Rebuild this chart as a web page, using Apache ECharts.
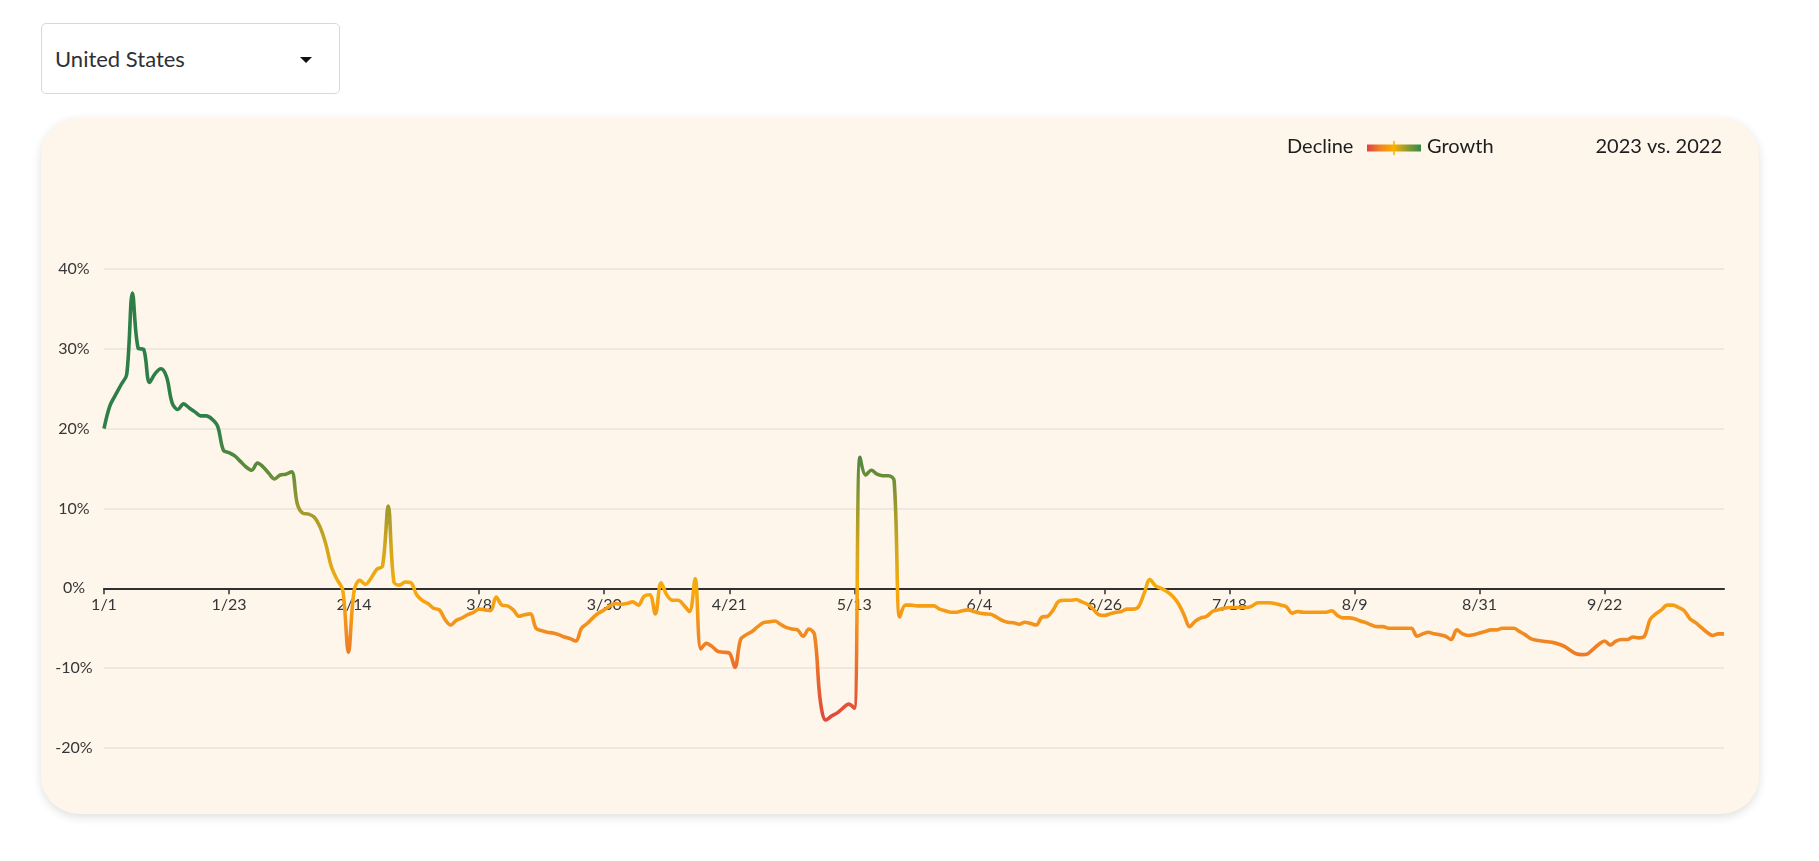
<!DOCTYPE html>
<html>
<head>
<meta charset="utf-8">
<script src="https://cdn.jsdelivr.net/npm/echarts@6/dist/echarts.min.js"></script>
<style>
  html, body { margin:0; padding:0; background:#ffffff; width:1819px; height:861px; overflow:hidden; font-family: Lato, "Open Sans", sans-serif; }
  #dropdown { position:absolute; left:41px; top:23px; width:297px; height:69px; border:1px solid #d8d8d8; border-radius:5px; background:#fff; }
  #dropdown span { position:absolute; left:13px; top:0; line-height:70px; font-size:22px; color:#2e3036; }
  #dropdown i { position:absolute; left:258px; top:33px; width:0; height:0; border-left:6px solid transparent; border-right:6px solid transparent; border-top:6px solid #111; }
  #card { position:absolute; left:41px; top:118px; width:1718px; height:696px; border-radius:38px; background:#fef6ea; box-shadow:0 3px 10px rgba(0,0,0,0.13); }
  #chart { position:absolute; left:0; top:0; width:1819px; height:861px; }
</style>
</head>
<body>
<div id="dropdown"><span>United States</span><i></i></div>
<div id="card"></div>
<div id="chart"></div>
<script>
// ---- data (2023 vs. 2022 % change, daily from 1/1) ----
const monthLengths = [31, 28, 31, 30, 31, 30, 31, 31, 30, 13];
const janValues = [20.0, 22.8, 24.2, 25.5, 26.8, 37.0, 30.1, 29.9, 25.8, 26.9, 27.5, 26.5, 23.2, 22.4, 23.1, 22.6, 22.1, 21.6, 21.6, 21.2, 20.3, 17.3, 17.0, 16.6, 15.9, 15.2, 14.8, 15.7, 15.2, 14.4, 13.7];
const febValues = [14.2, 14.3, 14.6, 10.6, 9.4, 9.3, 8.9, 7.7, 5.6, 2.7, 1.1, -0.2, -8.0, -0.3, 1.0, 0.5, 1.3, 2.4, 2.8, 10.3, 0.8, 0.4, 0.8, 0.7, -0.8, -1.5, -1.9, -2.5];
const marValues = [-2.7, -3.9, -4.6, -4.0, -3.7, -3.3, -3.0, -2.6, -2.7, -2.8, -1.1, -2.1, -2.2, -2.7, -3.5, -3.3, -3.2, -5.0, -5.3, -5.5, -5.6, -5.8, -6.1, -6.3, -6.6, -5.0, -4.4, -3.7, -3.1, -2.7, -2.2];
const aprValues = [-1.9, -2.0, -1.9, -1.7, -2.1, -1.0, -0.8, -3.2, 0.7, -0.8, -1.5, -1.5, -2.1, -2.9, 1.2, -7.6, -6.9, -7.3, -7.9, -8.0, -8.1, -9.9, -6.4, -5.8, -5.4, -4.8, -4.3, -4.2, -4.1, -4.5];
const mayValues = [-4.9, -5.1, -5.2, -6.0, -5.1, -5.8, -14.0, -16.5, -16.0, -15.6, -15.0, -14.5, -15.0, 16.4, 14.2, 14.8, 14.3, 14.1, 14.1, 13.5, -3.6, -2.1, -2.1, -2.2, -2.2, -2.2, -2.2, -2.6, -2.8, -3.0, -3.0];
const junValues = [-2.8, -2.7, -2.9, -3.1, -3.2, -3.25, -3.6, -4.0, -4.25, -4.3, -4.5, -4.25, -4.4, -4.6, -3.6, -3.5, -2.7, -1.6, -1.5, -1.5, -1.4, -1.7, -2.0, -2.6, -3.3, -3.4, -3.2, -3.0, -2.9, -2.6];
const julValues = [-2.6, -2.3, -0.6, 1.1, 0.3, 0.0, -0.4, -1.0, -1.9, -3.3, -4.8, -4.1, -3.7, -3.5, -2.9, -2.7, -2.5, -2.4, -2.4, -2.4, -2.4, -2.2, -1.8, -1.8, -1.8, -1.9, -2.1, -2.3, -3.1, -2.9, -3.0];
const augValues = [-3.0, -3.0, -3.0, -3.0, -2.8, -3.4, -3.7, -3.7, -3.8, -4.1, -4.3, -4.6, -4.8, -4.8, -5.0, -5.0, -5.0, -5.0, -5.0, -6.0, -5.7, -5.5, -5.7, -5.8, -6.0, -6.4, -5.2, -5.7, -5.9, -5.8, -5.6];
const sepValues = [-5.4, -5.2, -5.2, -5.0, -5.0, -5.0, -5.4, -5.8, -6.3, -6.5, -6.6, -6.7, -6.8, -7.0, -7.3, -7.8, -8.2, -8.3, -8.2, -7.6, -7.0, -6.6, -7.1, -6.6, -6.4, -6.4, -6.1, -6.2, -6.0, -3.9];
const octValues = [-3.2, -2.7, -2.1, -2.1, -2.4, -2.8, -3.8, -4.3, -4.9, -5.5, -5.9, -5.7, -5.7];
const yTicks = [-20, -10, 0, 10, 20, 30, 40];
const legendLabels = ['Decline', 'Growth'];
const periodLabel = '2023 vs. 2022';

// ---- build ----
const values = [].concat(janValues, febValues, marValues, aprValues, mayValues, junValues, julValues, augValues, sepValues, octValues);
const categories = [];
monthLengths.forEach((n, m) => { for (let d = 1; d <= n; d++) categories.push((m + 1) + '/' + d); });

const FONT = 'Lato, "Open Sans", sans-serif';
const GRID_TOP = 269, GRID_BOTTOM = 113, H = 861;
const yMin = yTicks[0], yMax = yTicks[yTicks.length - 1];
const plotH = H - GRID_TOP - GRID_BOTTOM;
const zeroOffset = -plotH * (0 - yMin) / (yMax - yMin);

const chart = echarts.init(document.getElementById('chart'), null, { renderer: 'canvas' });
chart.setOption({
  backgroundColor: 'transparent',
  animation: false,
  grid: { left: 104, right: 95, top: GRID_TOP, bottom: GRID_BOTTOM, containLabel: false },
  xAxis: {
    type: 'category',
    data: categories,
    boundaryGap: false,
    position: 'bottom',
    offset: zeroOffset,
    axisLine: { onZero: false, lineStyle: { color: '#2f3033', width: 2 } },
    axisTick: { show: true, interval: 21, length: 6, lineStyle: { color: '#2f3033', width: 1.5 } },
    axisLabel: { interval: 21, margin: 9, fontSize: 16, color: '#353638', fontFamily: FONT },
    splitLine: { show: false }
  },
  yAxis: {
    type: 'value',
    min: yMin,
    max: yMax,
    interval: 10,
    axisLine: { show: false },
    axisTick: { show: false },
    axisLabel: { formatter: '{value}%', align: 'center', margin: 30, fontSize: 16, color: '#353638', fontFamily: FONT },
    splitLine: { lineStyle: { color: '#e9e3da', width: 1.5 } }
  },
  visualMap: {
    show: false,
    type: 'continuous',
    dimension: 1,
    min: -20,
    max: 40,
    inRange: {
      color: ['#d93a3a', '#e2503a', '#eb6e2b', '#f28f1e', '#f8ab0c', '#d3a61c', '#9f9a2c', '#5e8b3b', '#30804a', '#2d7e48', '#2d7e48', '#2d7e48', '#2d7e48']
    }
  },
  series: [{
    type: 'line',
    data: values,
    smooth: 0.35,
    showSymbol: false,
    symbol: 'none',
    lineStyle: { width: 3.6 }
  }],
  graphic: [
    { type: 'text', left: 1287, top: 137, style: { text: legendLabels[0], font: '20px ' + FONT, fill: '#1d1d1f' } },
    { type: 'rect', shape: { x: 1367, y: 144.5, width: 54, height: 7 },
      style: { fill: new echarts.graphic.LinearGradient(0, 0, 1, 0, [
        { offset: 0, color: '#e04242' }, { offset: 0.25, color: '#f0861f' }, { offset: 0.5, color: '#f9b000' },
        { offset: 0.75, color: '#8e9a30' }, { offset: 1, color: '#338a4a' }]) } },
    { type: 'line', shape: { x1: 1394, y1: 141, x2: 1394, y2: 155 }, style: { stroke: '#f7b000', lineWidth: 1.5 } },
    { type: 'text', left: 1427, top: 137, style: { text: legendLabels[1], font: '20px ' + FONT, fill: '#1d1d1f' } },
    { type: 'text', right: 97, top: 137, style: { text: periodLabel, font: '20px ' + FONT, fill: '#1d1d1f' } }
  ]
});
</script>
</body>
</html>
